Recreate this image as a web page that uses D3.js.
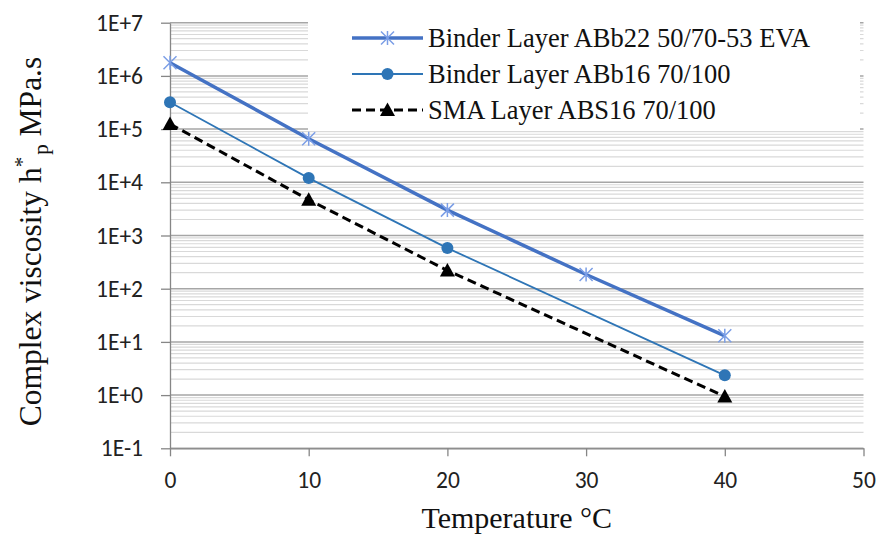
<!DOCTYPE html>
<html>
    <head>
        <title>complex viscosity</title>
        <script src="https://cdn.jsdelivr.net/npm/d3@7/dist/d3.min.js"></script>
        <style>
            body{margin:0;background:#fff;overflow:hidden;}
            svg{display:block;}
        </style>
    </head>

    <body>
        <svg width="879" height="539" id="mainsvg"></svg>
        <script>
            // data
            const seriesNames=['Binder Layer ABb22 50/70-53 EVA','Binder Layer ABb16 70/100','SMA Layer ABS16 70/100'];
            const tempEVA=[0,10,20,30,40];
            const viscEVA=[1.77e6,6.6e4,3.0e3,1.85e2,13];
            const tempABb16=[0,10,20,40];
            const viscABb16=[3.2e5,1.2e4,5.8e2,2.35];
            const tempSMA=[0,10,20,40];
            const viscSMA=[1.25e5,4.7e3,2.2e2,0.94];
            const xTicks=[0,10,20,30,40,50];
            const yTickValues=[1e-1,1e0,1e1,1e2,1e3,1e4,1e5,1e6,1e7];
            const yTickLabels=['1E-1','1E+0','1E+1','1E+2','1E+3','1E+4','1E+5','1E+6','1E+7'];

            const svg=d3.select('svg');
            const width=+svg.attr('width');
            const height=+svg.attr('height');
            const margin={top:22.7, right:15.5, bottom:90.7, left:170};
            const innerWidth=width-margin.left-margin.right;
            const innerHeight=height-margin.top-margin.bottom;
            const serif='"Times New Roman","Liberation Serif",serif';
            const sans='Calibri,Carlito,Lato,sans-serif';

            const mainGroup=svg.append('g').attr('transform',`translate(${margin.left}, ${margin.top})`);

            const xScale=d3.scaleLinear().domain([0,50]).range([0,innerWidth]);
            const yScale=d3.scaleLog().domain([1e-1,1e7]).range([innerHeight,0]);

            //网格线 minor + major
            const isMajor=d=>Math.abs(Math.log10(d)-Math.round(Math.log10(d)))<1e-9;
            mainGroup.selectAll('.grid').data(yScale.ticks()).join('line')
                .attr('class','grid')
                .attr('x1',0).attr('x2',innerWidth)
                .attr('y1',d=>yScale(d)).attr('y2',d=>yScale(d))
                .attr('stroke',d=>isMajor(d)?'#a6a6a6':'#d9d9d9')
                .attr('stroke-width',d=>isMajor(d)?1.5:1.2);

            //坐标轴
            const xAxis=d3.axisBottom(xScale).tickValues(xTicks).tickSize(8).tickSizeOuter(0).tickPadding(15);
            const yAxis=d3.axisLeft(yScale).tickValues(yTickValues).tickFormat((d,i)=>yTickLabels[i]).tickSize(9).tickSizeOuter(0).tickPadding(18);
            const xAxisGroup=mainGroup.append('g').attr('transform',`translate(0, ${innerHeight})`).call(xAxis);
            const yAxisGroup=mainGroup.append('g').call(yAxis);
            [xAxisGroup,yAxisGroup].forEach(g=>{
                g.selectAll('path,line').attr('stroke','#868686').attr('stroke-width',1.3);
                g.selectAll('text').attr('fill','#222').style('font-family',sans).style('font-size','23.5px');
            });

            //series
            const line=d3.line().x(d=>xScale(d[0])).y(d=>yScale(d[1]));
            const ptsEVA=tempEVA.map((t,i)=>[t,viscEVA[i]]);
            const ptsABb16=tempABb16.map((t,i)=>[t,viscABb16[i]]);
            const ptsSMA=tempSMA.map((t,i)=>[t,viscSMA[i]]);

            mainGroup.append('path').datum(ptsABb16).attr('d',line)
                .attr('fill','none').attr('stroke','#2e75b6').attr('stroke-width',1.8);
            mainGroup.append('path').datum(ptsSMA).attr('d',line)
                .attr('fill','none').attr('stroke','#000').attr('stroke-width',3).attr('stroke-dasharray','9,5');
            mainGroup.append('path').datum(ptsEVA).attr('d',line)
                .attr('fill','none').attr('stroke','#4472c4').attr('stroke-width',3.5);

            const starPath='M-6.5,-6.5L6.5,6.5M-6.5,6.5L6.5,-6.5M0,-7L0,7';
            const triPath='M0,-7.5L7.5,6L-7.5,6Z';

            function drawStar(g,x,y){
                g.append('path').attr('transform',`translate(${x},${y})`).attr('d',starPath)
                    .attr('stroke','#7b9ee6').attr('stroke-width',1.5).attr('fill','none');
            }
            function drawCircle(g,x,y){
                g.append('circle').attr('cx',x).attr('cy',y).attr('r',6).attr('fill','#2e75b6');
            }
            function drawTri(g,x,y){
                g.append('path').attr('transform',`translate(${x},${y})`).attr('d',triPath).attr('fill','#000');
            }
            ptsABb16.forEach(d=>drawCircle(mainGroup,xScale(d[0]),yScale(d[1])));
            ptsSMA.forEach(d=>drawTri(mainGroup,xScale(d[0]),yScale(d[1])));
            ptsEVA.forEach(d=>drawStar(mainGroup,xScale(d[0]),yScale(d[1])));

            //图例
            const legend=svg.append('g').attr('transform','translate(308,12)');
            legend.append('rect').attr('x',0).attr('y',0).attr('width',552).attr('height',119).attr('fill','#fff');
            const legendRows=legend.selectAll('.legend').data(seriesNames).join('g')
                .attr('class','legend')
                .attr('transform',(d,i)=>`translate(0, ${26+i*36})`);
            const lstyles=[
                {c:'#4472c4',w:3.5,dash:null},
                {c:'#2e75b6',w:1.8,dash:null},
                {c:'#000',w:3,dash:'9,5'}
            ];
            legendRows.each(function(d,i){
                const g=d3.select(this);
                g.append('line').attr('x1',44).attr('x2',115).attr('y1',0).attr('y2',0)
                    .attr('stroke',lstyles[i].c).attr('stroke-width',lstyles[i].w)
                    .attr('stroke-dasharray',lstyles[i].dash);
                if(i===0) drawStar(g,79.5,0);
                if(i===1) drawCircle(g,79.5,0);
                if(i===2) drawTri(g,79.5,0);
                g.append('text').attr('x',120).attr('y',0).attr('dy','0.35em')
                    .style('font-family',serif).style('font-size','26.5px').attr('fill','#111').text(d);
            });

            //坐标轴标题
            svg.append('text').attr('x',margin.left+innerWidth/2).attr('y',528)
                .attr('text-anchor','middle').style('font-family',serif).style('font-size','30px')
                .attr('fill','#111').text('Temperature °C');

            const yTitle=svg.append('text').attr('transform',`translate(41, ${margin.top+innerHeight/2+6}) rotate(-90)`)
                .attr('text-anchor','middle').style('font-family',serif).style('font-size','31.5px').attr('fill','#111');
            yTitle.append('tspan').text('Complex viscosity h');
            yTitle.append('tspan').attr('dy',-12).style('font-size','21px').text('*');
            yTitle.append('tspan').attr('dy',19).attr('dx',2).style('font-size','21px').text('p');
            yTitle.append('tspan').attr('dy',-7).text(' MPa.s');
        </script>
    </body>
</html>
